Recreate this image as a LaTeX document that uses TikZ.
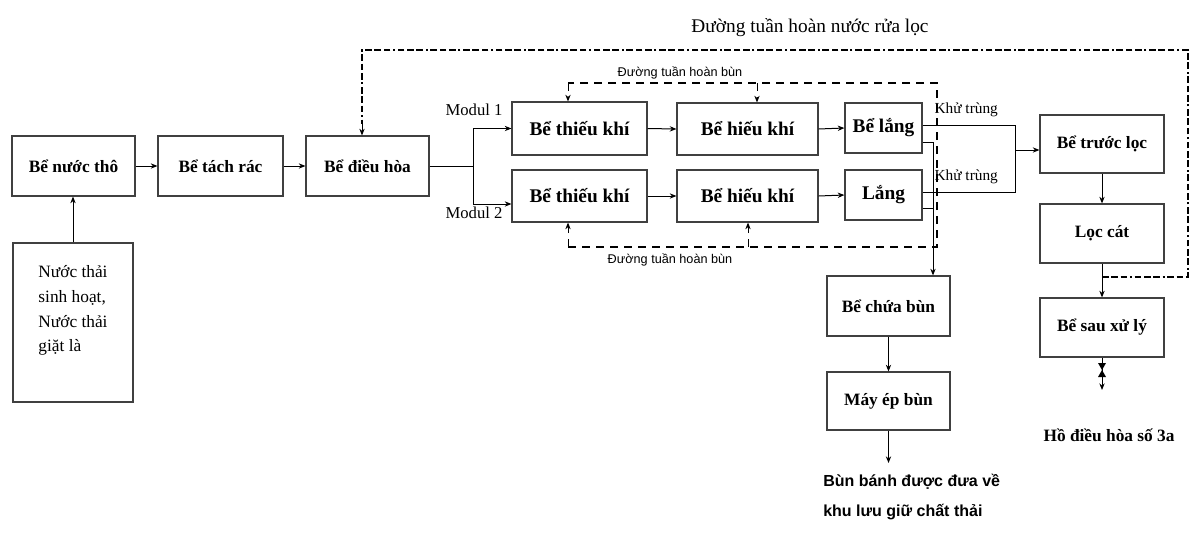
\documentclass[tikz,border=0pt]{standalone}
\usepackage{fontspec}
\setmainfont{Liberation Serif}
\newfontfamily\sansvn{Liberation Sans}
\usetikzlibrary{positioning, arrows.meta, calc}

\begin{document}
\begin{tikzpicture}
    [
        x=0.75pt, y=-0.75pt,
        box/.style={draw=black!75, line width=0.9pt, rectangle, inner sep=2pt, font=\bfseries\fontsize{13}{15}\selectfont},
        bigbox/.style={box, font=\bfseries\fontsize{14.5}{17}\selectfont},
        flow/.style={-{Stealth[length=5pt, width=4pt]}, line width=0.75pt},
        pipe/.style={line width=0.75pt},
        recirc/.style={line width=0.8pt, dash pattern=on 6pt off 4.5pt},
        backwash/.style={line width=1.8pt, dash pattern=on 5pt off 2pt on 5pt off 2pt on 5pt off 2pt on 1.5pt off 2pt},
        lbl/.style={inner sep=1pt, font=\fontsize{11.5}{13}\selectfont},
        smallsans/.style={inner sep=1pt, font=\sansvn\fontsize{9.5}{11}\selectfont}
    ]
        \useasboundingbox (0,0) rectangle (1192,533);
        % =========================================================================
        % NODES
        % =========================================================================
        % --- Row 1 ---
        \node [box, minimum width=92.25pt, minimum height=45pt] (nuoctho) at (73.5,166) {Bể nước thô};
        \node [box, minimum width=93.75pt, minimum height=45pt] (tachrac) at (220.5,166) {Bể tách rác};
        \node [box, minimum width=92.25pt, minimum height=45pt] (dieuhoa) at (367.5,166) {Bể điều hòa};
        \node [box, minimum width=90pt, minimum height=119.25pt] (nguon) at (73,322.5) {};
        \node [below=14pt of nguon.north, align=left, font=\fontsize{13}{18.5}\selectfont] (nguontext)
            {Nước thải\\sinh hoạt,\\Nước thải\\giặt là};
        % --- Modules ---
        \node [bigbox, minimum width=101.25pt, minimum height=39.75pt] (thieu1) at (579.5,128.5) {Bể thiếu khí};
        \node [bigbox, minimum width=101.25pt, minimum height=39pt] (thieu2) at (579.5,196) {Bể thiếu khí};
        \node [bigbox, minimum width=105.75pt, minimum height=39pt] (hieu1) at (747.5,129) {Bể hiếu khí};
        \node [bigbox, minimum width=105.75pt, minimum height=39pt] (hieu2) at (747.5,196) {Bể hiếu khí};
        \node [bigbox, minimum width=57.75pt, minimum height=37.5pt] (lang1) at (883.5,128) {Bể lắng};
        \node [bigbox, minimum width=57.75pt, minimum height=37.5pt] (lang2) at (883.5,195) {Lắng};
        \node [lbl, font=\fontsize{12.5}{14}\selectfont] (modul1) at (474,110) {Modul 1};
        \node [lbl, font=\fontsize{12.5}{14}\selectfont] (modul2) at (474,213) {Modul 2};
        \node [smallsans] (tuanhoan1) at (680,73) {Đường tuần hoàn bùn};
        \node [smallsans] (tuanhoan2) at (670,260) {Đường tuần hoàn bùn};
        \node [lbl, anchor=west] (khutrung1) at (933,110) {Khử trùng};
        \node [lbl, anchor=west] (khutrung2) at (933,177) {Khử trùng};
        % --- Sludge line ---
        \node [box, minimum width=92.25pt, minimum height=45pt] (chuabun) at (888.5,306) {Bể chứa bùn};
        \node [box, minimum width=92.25pt, minimum height=43.5pt] (mayep) at (888.5,401) {Máy ép bùn};
        \node [anchor=north west, align=left, inner sep=0pt, font=\sansvn\bfseries\fontsize{12}{22.5}\selectfont] (bunbanh)
            at (823,474) {Bùn bánh được đưa về\\khu lưu giữ chất thải};
        % --- Filter line ---
        \node [box, minimum width=93pt, minimum height=43.5pt] (truocloc) at (1102,144) {Bể trước lọc};
        \node [box, minimum width=93pt, minimum height=44.25pt] (loccat) at (1102,233.5) {Lọc cát};
        \node [box, minimum width=93pt, minimum height=44.25pt] (sauxuly) at (1102,327.5) {Bể sau xử lý};
        \node [font=\bfseries\fontsize{13}{15}\selectfont] (hodieuhoa) at (1109,435) {Hồ điều hòa số 3a};
        \node [font=\fontsize{14.5}{17}\selectfont] (tuanhoannuoc) at (810,28) {Đường tuần hoàn nước rửa lọc};
        % --- Free ends ---
        \coordinate (split) at (473,166);
        \coordinate (ktA) at (1015,125);
        \coordinate (ktB) at (1015,192);
        \coordinate (khujoin) at (1015,150);
        \coordinate (bun1) at (933,142);
        \coordinate (bun2) at (933,208);
        \coordinate (rcTR) at (937,83);
        \coordinate (rcBR) at (937,247);
        \coordinate (rcT1) at (568,83);
        \coordinate (rcT2) at (757,83);
        \coordinate (rcB1) at (568,247);
        \coordinate (rcB2) at (748,247);
        \coordinate (bwstart) at (1102,277);
        \coordinate (bwBR) at (1188,277);
        \coordinate (bwTR) at (1188,50);
        \coordinate (bwTL) at (362,50);
        \coordinate (bwdown) at (362,124);
        \coordinate (banhout) at (888.5,463);
        \coordinate (valve) at (1102,370);
        \coordinate (hoout) at (1102,390);

        % =========================================================================
        % PATHS
        % =========================================================================
        % --- HORIZONTAL ---
        \draw [flow] (nguon.north) -- (nguon.north |- nuoctho.south);
        \draw [flow] (nuoctho.east) -- (tachrac.west);
        \draw [flow] (tachrac.east) -- (dieuhoa.west);
        \draw [pipe] (dieuhoa.east) -- (split);
        \draw [flow] (split) |- (thieu1.west);
        \draw [flow] (split) |- ($(thieu2.west)+(0,8)$);
        \draw [flow] (thieu1.east) -- (hieu1.west);
        \draw [flow] (hieu1.east) -- (lang1.west);
        \draw [flow] (thieu2.east) -- (hieu2.west);
        \draw [flow] (hieu2.east) -- (lang2.west);
        % --- DISINFECTION ---
        \draw [pipe] (lang1.east |- ktA) -- (ktA) -- (ktB) -- (lang2.east |- ktB);
        \draw [flow] (khujoin) -- (khujoin -| truocloc.west);
        % --- SLUDGE ---
        \draw [pipe] (lang1.east |- bun1) -- (bun1);
        \draw [pipe] (lang2.east |- bun2) -- (bun2);
        \draw [flow] (bun1) -- (bun1 |- chuabun.north);
        \draw [flow] (chuabun.south) -- (mayep.north);
        \draw [flow] (mayep.south) -- (banhout);
        % --- RECIRCULATION ---
        \draw [recirc] (rcB1) -- (rcBR) -- (rcTR) -- (rcT1);
        \draw [recirc, flow] (rcT1) -- (rcT1 |- thieu1.north);
        \draw [recirc, flow] (rcT2) -- (rcT2 |- hieu1.north);
        \draw [recirc, flow] (rcB1) -- (rcB1 |- thieu2.south);
        \draw [recirc, flow] (rcB2) -- (rcB2 |- hieu2.south);
        % --- FILTER ---
        \draw [flow] (truocloc.south) -- (loccat.north);
        \draw [flow] (loccat.south) -- (sauxuly.north);
        \draw [flow] (sauxuly.south) -- (hoout);
        \fill [shift={(valve)}] (-4,-7) -- (4,-7) -- (0,0) -- cycle (-4,7) -- (4,7) -- (0,0) -- cycle;
        % --- BACKWASH ---
        \draw [backwash] (bwstart) -- (bwBR) -- (bwTR) -- (bwTL) -- (bwdown);
        \draw [flow] (bwdown) -- (bwdown |- dieuhoa.north);
    \end{tikzpicture}
\end{document}
